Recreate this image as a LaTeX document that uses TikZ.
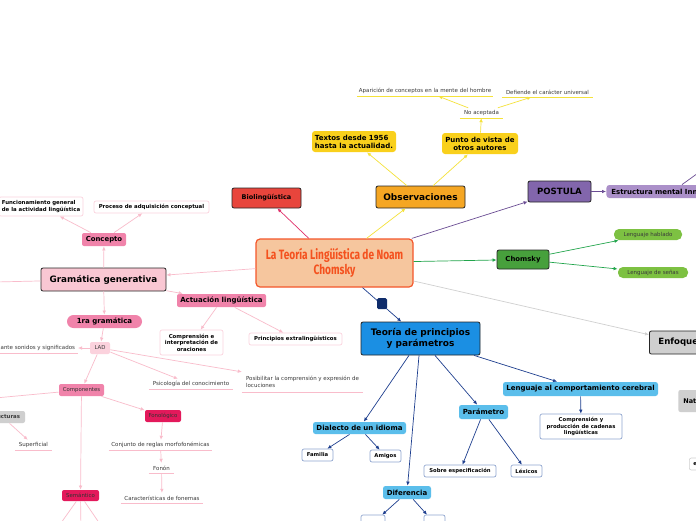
\documentclass[tikz,border=0pt]{standalone}
\usepackage{fontspec}
\setmainfont{DejaVu Sans}
\newfontfamily\titlefont[FakeStretch=0.75]{Fira Sans}
\usetikzlibrary{arrows.meta}
\definecolor{peach}{HTML}{F6C69E}
\definecolor{orangeborder}{HTML}{F4572B}
\definecolor{titletext}{HTML}{F4511E}
\definecolor{biored}{HTML}{E8453C}
\definecolor{obsorange}{HTML}{F5A623}
\definecolor{yellowbox}{HTML}{F9D01C}
\definecolor{yellowline}{HTML}{F5E23A}
\definecolor{purplebox}{HTML}{8266AC}
\definecolor{lightpurple}{HTML}{AB90C9}
\definecolor{purpleline}{HTML}{6A4C93}
\definecolor{greenbox}{HTML}{47A03C}
\definecolor{lightgreen}{HTML}{7DC142}
\definecolor{greenline}{HTML}{22A54C}
\definecolor{grayline}{HTML}{D0D0D0}
\definecolor{graybox}{HTML}{CFCFCF}
\definecolor{bluebox}{HTML}{1B8FE3}
\definecolor{lightblue}{HTML}{5BBEEB}
\definecolor{navy}{HTML}{1D3E8E}
\definecolor{navysq}{HTML}{0F2C6B}
\definecolor{leafblue}{HTML}{8FA5CF}
\definecolor{gramapink}{HTML}{F9C7D3}
\definecolor{pinkbox}{HTML}{F083AA}
\definecolor{pinklight}{HTML}{FBD2DD}
\definecolor{crimson}{HTML}{E3195B}
\definecolor{crimsonline}{HTML}{E0306A}
\definecolor{pinkline}{HTML}{F9BCCB}
\definecolor{leafpink}{HTML}{FBD3DE}
\definecolor{txtgray}{HTML}{3A3A3A}
\newcommand\fsz[2]{\fontsize{#1}{#2}\selectfont}
\begin{document}
\begin{tikzpicture}[x=1pt,y=-1pt,
  box/.style={rounded corners=2pt, inner sep=0pt, align=center, line width=0.8pt, draw=black!85},
  wh/.style n args={2}{minimum width=#1pt, minimum height=#2pt},
  lf/.style={inner sep=0pt, align=center, text=txtgray, font=\fsz{5.5}{6.6},
    append after command={(\tikzlastnode.south west) edge[draw=#1, line width=0.6pt] (\tikzlastnode.south east)}},
  ar/.style={draw=#1, line width=0.7pt, -{Latex[length=4pt,width=3.6pt]}},
  ln/.style={draw=#1, line width=0.7pt},
  ybox/.style={box, draw=none, fill=yellowbox, rounded corners=3pt, font=\bfseries\fsz{7}{8}},
  lb/.style={box, draw=none, fill=lightblue, rounded corners=2.5pt, font=\bfseries\fsz{7}{8.4}},
  wb/.style={box, fill=white, draw=leafblue, line width=0.7pt, font=\bfseries\fsz{5.3}{6.3}},
  pbx/.style={box, draw=none, fill=pinkbox, rounded corners=2pt},
  wp/.style={box, fill=white, draw=leafpink, line width=0.7pt, font=\bfseries\fsz{5.4}{6.5}},
]
\useasboundingbox (0,0) rectangle (696,520);
\fill[white] (0,0) rectangle (696,520);
\clip (0,0) rectangle (696,520);

% central
\node[box, fill=peach, draw=orangeborder, line width=1.2pt, rounded corners=4pt, wh={157}{48},
  font=\titlefont\bfseries\fsz{13.5}{14.5}, text=titletext] (c) at (334.5,263) {La Teoría Lingüística de Noam\\Chomsky};

% top
\node[box, fill=biored, wh={69}{20}, font=\bfseries\fsz{6.5}{7.8}] (bio) at (266.5,198) {Biolingüística};
\node[box, fill=obsorange, wh={89}{22}, font=\bfseries\fsz{9}{10.8}] (obs) at (420.5,197) {Observaciones};
\node[ybox, wh={84}{21}, align=left] (tx) at (354,141.5) {Textos desde 1956\\hasta la actualidad.};
\node[ybox, wh={76}{21}] (pv) at (480,143.5) {Punto de vista de\\otros autores};
\node[lf=yellowline, wh={43}{10}] (na) at (481.5,113) {No aceptada};
\node[lf=yellowline, wh={136}{10}] (ap) at (425,91) {Aparición de conceptos en la mente del hombre};
\node[lf=yellowline, wh={91}{10}] (df) at (547.5,92) {Defiende el carácter universal};

% right
\node[box, fill=purplebox, wh={63}{21}, font=\bfseries\fsz{8.6}{10}] (po) at (559.5,191.5) {POSTULA};
\node[box, draw=none, fill=lightpurple, rounded corners=3pt, anchor=west, minimum height=13pt, text width=100pt, inner xsep=5pt, align=left, font=\bfseries\fsz{7}{8}] (es) at (606,191.5) {Estructura mental Innata};
\coordinate (er) at (705,168);
\node[box, fill=greenbox, wh={52}{19}, font=\bfseries\fsz{6.9}{8.2}] (ch) at (523,259.5) {Chomsky};
\node[box, draw=none, fill=lightgreen, rounded corners=5pt, wh={68}{11}, font=\fsz{5.5}{6.5}, text=txtgray] (lh) at (648,234.5) {Lenguaje hablado};
\node[box, draw=none, fill=lightgreen, rounded corners=5pt, wh={70}{11}, font=\fsz{5.5}{6.5}, text=txtgray] (sn) at (653,272.5) {Lenguaje de señas};
\node[box, fill=graybox, anchor=west, minimum height=23pt, text width=50pt, inner xsep=9pt, align=left, font=\bfseries\fsz{8.6}{10}] (en) at (649,342.5) {Enfoque};
\node[box, draw=none, fill=graybox, anchor=west, minimum height=22pt, text width=30pt, inner xsep=5pt, align=left, font=\bfseries\fsz{6.5}{7.5}] (nat) at (678,401) {Nat};
\node[box, fill=white, draw=graybox, line width=0.6pt, anchor=west, minimum height=12pt, text width=20pt, inner xsep=4pt, align=left, font=\bfseries\fsz{5.4}{6.4}] (ee) at (689,464) {e};

% Teoria
\node[box, fill=bluebox, wh={119}{33}, font=\bfseries\fsz{9}{11}] (tp) at (420.5,338.5) {Teoría de principios\\y parámetros};
\node[lb, wh={93}{12}] (di) at (359.5,428) {Dialecto de un idioma};
\node[lb, wh={48}{13}] (dif) at (407,492.5) {Diferencia};
\node[lb, wh={49}{14}] (pa) at (483.5,412) {Parámetro};
\node[lb, wh={155}{14}] (le) at (580.5,389) {Lenguaje al comportamiento cerebral};
\node[wb, wh={31}{12}] (fa) at (317.5,455) {Familia};
\node[wb, wh={31}{12}] (am) at (385.5,456) {Amigos};
\node[wb, wh={72}{12}] (so) at (460,471) {Sobre especificación};
\node[wb, wh={31}{12}] (lx) at (526.5,471) {Léxicos};
\node[wb, wh={82}{25}] (cp) at (581,426.5) {Comprensión y\\producción de cadenas\\lingüísticas};
\node[wb, wh={24}{16}] (d1) at (373,523) {};
\node[wb, wh={21}{16}] (d2) at (434.5,523) {};

% left
\node[box, fill=gramapink, wh={125}{23}, font=\bfseries\fsz{8.8}{10.5}] (gg) at (103.5,279.5) {Gramática generativa};
\coordinate (gl) at (-5,282);
\node[pbx, wh={44}{13}, font=\bfseries\fsz{6.9}{8.2}] (co) at (104,239.5) {Concepto};
\node[wp, wh={84}{19}, align=left] (fu) at (41,206.5) {Funcionamiento general\\de la actividad lingüística};
\node[wp, wh={115}{12}] (pr) at (151.5,207) {Proceso de adquisición conceptual};
\node[pbx, wh={89}{13}, font=\bfseries\fsz{7}{8.4}] (ac) at (221.5,300.5) {Actuación lingüística};
\node[wp, wh={63}{25}] (c1) at (191.5,342.5) {Comprensión e\\interpretación de\\oraciones};
\node[wp, wh={93}{12}] (pe) at (295.5,339) {Principios extralingüísticos};
\node[pbx, rounded corners=6.5pt, wh={75}{13}, font=\bfseries\fsz{7}{8.4}] (g1) at (104.5,321.5) {1ra gramática};
\node[box, draw=none, fill=pinklight, wh={20}{12}, font=\fsz{5.4}{6.4}, text=txtgray] (lad) at (100,348) {LAD};
\node[lf=pinkline, wh={80}{10}, anchor=east] (an) at (78,348) {ante sonidos y significados};
\node[lf=pinkline, wh={84}{10}] (ps) at (191,384) {Psicología del conocimiento};
\node[lf=pinkline, wh={121}{20}, align=left] (pb) at (302.5,382) {Posibilitar la comprensión y expresión de\\locuciones};
\node[pbx, wh={45}{12}, font=\fsz{5.4}{6.4}, text=black!80] (cm) at (81.5,390) {Componentes};
\coordinate (cl) at (-5,398);
\node[box, draw=none, fill=graybox, wh={45}{12}, font=\bfseries\fsz{5.4}{6.4}, text=txtgray] (est) at (2.5,417) {Estructuras};
\coordinate (el) at (-10,442);
\node[lf=pinkline, wh={37}{10}] (sp) at (33.5,445) {Superficial};
\node[box, draw=none, fill=crimson, wh={36}{12}, font=\fsz{5.4}{6.4}, text=black!80] (fo) at (163,416) {Fonológico};
\node[lf=pinkline, wh={103}{10}] (cj) at (160.5,445) {Conjunto de reglas morfofonémicas};
\node[lf=pinkline, wh={25}{10}] (fn) at (161.5,468) {Fonón};
\node[lf=pinkline, wh={82}{10}] (ca) at (162,498) {Características de fonemas};
\node[box, draw=none, fill=crimson, wh={37}{11}, font=\fsz{5.4}{6.4}, text=black!80] (se) at (80.5,495.5) {Semántico};
\coordinate (s1) at (56,530);
\coordinate (s2) at (81,530);
\coordinate (s3) at (104,530);

% connectors
\draw[ar=crimsonline] (c) -- (bio);
\draw[ar=yellowline] (c) -- (obs);
\draw[ar=yellowline] (obs) -- (tx);
\draw[ar=yellowline] (obs) -- (pv);
\draw[ar=yellowline] (pv) -- (na);
\draw[ar=yellowline] (na) -- (ap);
\draw[ar=yellowline] (na) -- (df);
\draw[ar=purpleline] (c) -- (po);
\draw[ar=purpleline] (po) -- (es);
\draw[ln=purpleline] ([xshift=76pt]es.north west) -- (er);
\draw[ar=greenline] (c) -- (ch);
\draw[ar=greenline] (ch) -- (lh);
\draw[ar=greenline] (ch) -- (sn);
\draw[ar=grayline] (c) -- (en);
\draw[ar=navy] (c) -- (tp);
\foreach \t in {di,dif,pa,le} \draw[ar=navy] (tp) -- (\t);
\draw[ar=navy] (di) -- (fa);
\draw[ar=navy] (di) -- (am);
\draw[ar=navy] (pa) -- (so);
\draw[ar=navy] (pa) -- (lx);
\draw[ar=navy] (le) -- (cp);
\draw[ar=navy] (dif) -- (d1);
\draw[ar=navy] (dif) -- (d2);
\node[fill=navysq, rounded corners=1.5pt, inner sep=0pt, wh={10}{11}] (mk) at (382,303.5) {};

\draw[ar=pinkline] (c) -- (gg);
\draw[ln=pinkline] (gg) -- (gl);
\draw[ar=pinkline] (gg) -- (co);
\draw[ar=pinkline] (co) -- (fu);
\draw[ar=pinkline] (co) -- (pr);
\draw[ar=pinkline] (gg) -- (ac);
\draw[ar=pinkline] (ac) -- (c1);
\draw[ar=pinkline] (ac) -- (pe);
\draw[ar=pinkline] (gg) -- (g1);
\draw[ar=pinkline] (g1) -- (lad);
\draw[ar=pinkline] (lad) -- (an);
\draw[ar=pinkline] (lad) -- (ps);
\draw[ar=pinkline] (lad) -- (pb);
\draw[ar=pinkline] (lad) -- (cm);
\draw[ln=pinkline] (cm) -- (cl);
\draw[ar=pinkline] (cm) -- (fo);
\draw[ar=pinkline] (cm) -- (se);
\draw[ar=pinkline] (fo) -- (cj);
\draw[ar=pinkline] (cj) -- (fn);
\draw[ar=pinkline] (fn) -- (ca);
\draw[ar=pinkline] (est) -- (sp);
\draw[ln=pinkline] (est) -- (el);
\draw[ln=pinkline] (se) -- (s1);
\draw[ln=pinkline] (se) -- (s2);
\draw[ln=pinkline] (se) -- (s3);
\end{tikzpicture}
\end{document}
